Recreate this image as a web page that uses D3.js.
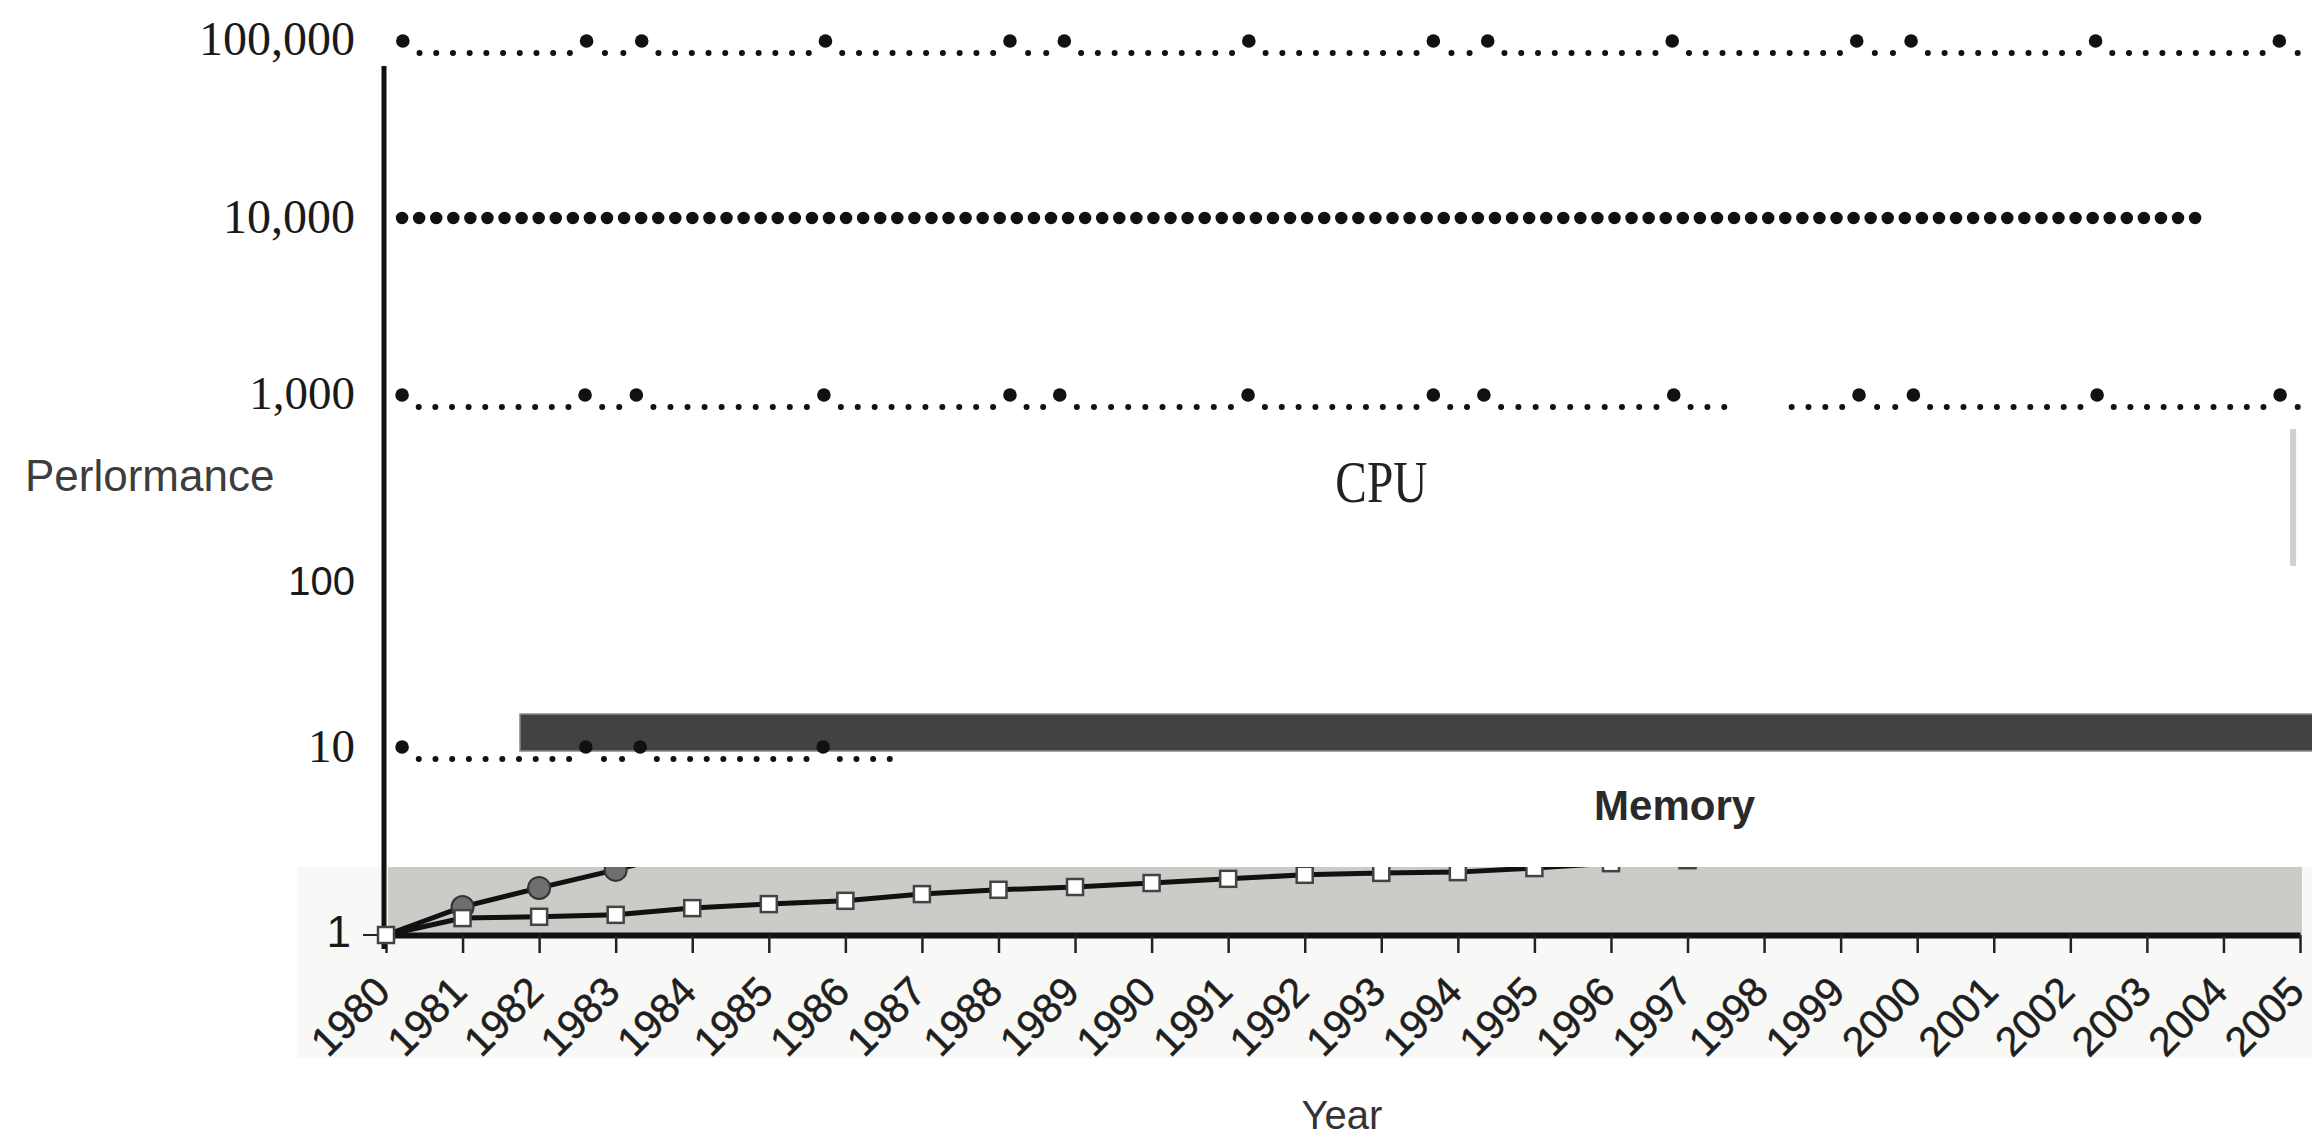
<!DOCTYPE html>
<html>
<head>
<meta charset="utf-8">
<script src="https://cdn.jsdelivr.net/npm/d3@7"></script>
<style>
  html, body { margin: 0; padding: 0; background: #fff; }
  svg { display: block; }
</style>
</head>
<body>
<svg id="chart" width="2312" height="1139"></svg>
<script>
// ---- data ----
const years = d3.range(1980, 2006);
const yTicks = [1, 10, 100, 1000, 10000, 100000];
const yTickLabels = ["1", "10", "100", "1,000", "10,000", "100,000"];

const memYears = d3.range(1980, 1998);
const memory = [1, 1.23, 1.25, 1.28, 1.39, 1.46, 1.52, 1.65, 1.74, 1.80, 1.89, 1.99, 2.09, 2.14, 2.16, 2.27, 2.41, 2.50];
const cpuYears = [1980, 1981, 1982, 1983, 1984];
const cpu = [1, 1.41, 1.78, 2.22, 2.83];

// big dots of the dotted rows, in years
const row100k = [1980.22, 1982.62, 1983.34, 1985.74, 1988.15, 1988.86, 1991.27, 1993.68, 1994.39, 1996.80, 1999.21, 1999.92, 2002.33, 2004.73];
const row1k = [1980.21, 1982.60, 1983.27, 1985.72, 1988.15, 1988.80, 1991.26, 1993.68, 1994.34, 1996.82, 1999.24, 1999.95, 2002.35, 2004.74];
const row10 = [1980.21, 1982.61, 1983.32, 1985.71];
const row10kSpan = [1980.21, 2003.63];
const row1kGap = [1997.53, 1998.33];

// dark band and light grey stroke: [from year, to year, low, high]
const darkBar = [1981.75, 2005.5, 9.52, 15.76];
const greyMark = [2004.91, 2004.91, 119, 655];

const svg = d3.select("#chart");

const x = d3.scaleLinear().domain([1980, 2005]).range([386, 2300]);
const y = d3.scaleLog().domain(yTicks).range([935, 747, 580, 395, 218, 41]);

const SERIF = "'Liberation Serif', 'Times New Roman', serif";
const SANS = "'Liberation Sans', Arial, Helvetica, sans-serif";

// light background behind the lower strip
svg.append("rect")
    .attr("x", 297).attr("y", 867)
    .attr("width", 2312 - 297).attr("height", 1058 - 867)
    .attr("fill", "#f8f9f6");

svg.append("rect")
    .attr("x", x(1980) + 2).attr("y", 867)
    .attr("width", x(2005) - x(1980)).attr("height", y(1) - 867)
    .attr("fill", "#c9ccc7");

// dark bar
svg.append("rect")
    .attr("x", x(darkBar[0])).attr("y", y(darkBar[3]))
    .attr("width", x(darkBar[1]) - x(darkBar[0]))
    .attr("height", y(darkBar[2]) - y(darkBar[3]))
    .attr("fill", "#434142")
    .attr("stroke", "#8a8a8a").attr("stroke-width", 1.5);

// light grey stroke on the right
svg.append("line")
    .attr("x1", x(greyMark[0])).attr("x2", x(greyMark[1]))
    .attr("y1", y(greyMark[3])).attr("y2", y(greyMark[2]))
    .attr("stroke", "#cfd1cd").attr("stroke-width", 6);

// ---- dotted rows ----
const dotRows = [
  { value: 100000, dots: row100k, end: 2004.97, gaps: [] },
  { value: 1000, dots: row1k, end: 2004.97, gaps: [row1kGap] },
  { value: 10, dots: row10, end: 1986.58, gaps: [] }
];

const gDots = svg.append("g");

function leader(a, b, yy, gaps, includeEnd) {
  const n = Math.round((b - a) / 16.7);
  if (n < 1) return;
  const s = (b - a) / n;
  let pieces = [[a + s, includeEnd ? b : b - s]];
  gaps.forEach(([g0, g1]) => {
    const p0x = x(g0), p1x = x(g1);
    pieces = pieces.flatMap(([p0, p1]) => {
      if (p1x <= p0 || p0x >= p1) return [[p0, p1]];
      return [[p0, a + s * Math.floor((p0x - a) / s)],
              [a + s * Math.ceil((p1x - a) / s), p1]].filter(([u, v]) => v >= u - 0.1);
    });
  });
  pieces.forEach(([p0, p1]) => {
    if (p1 < p0 - 0.1) return;
    gDots.append("line")
        .attr("x1", p0).attr("x2", p1 + 0.5)
        .attr("y1", yy).attr("y2", yy)
        .attr("stroke", "#111").attr("stroke-width", 6)
        .attr("stroke-linecap", "round")
        .attr("stroke-dasharray", `0 ${s}`);
  });
}

dotRows.forEach(row => {
  const yy = y(row.value);
  const px = row.dots.map(x);
  for (let i = 0; i < px.length - 1; i++) leader(px[i], px[i + 1], yy + 12, row.gaps, false);
  leader(px[px.length - 1], x(row.end), yy + 12, row.gaps, true);
  gDots.selectAll(null)
      .data(row.dots)
      .enter()
      .append("circle")
      .attr("cx", d => x(d))
      .attr("cy", yy)
      .attr("r", 6.8)
      .attr("fill", "#111");
});

// the solid row of big dots at 10,000
{
  const a = x(row10kSpan[0]), b = x(row10kSpan[1]);
  const n = Math.round((b - a) / 17.1);
  gDots.append("line")
      .attr("x1", a).attr("x2", b + 0.5)
      .attr("y1", y(10000)).attr("y2", y(10000))
      .attr("stroke", "#111").attr("stroke-width", 12.5)
      .attr("stroke-linecap", "round")
      .attr("stroke-dasharray", `0 ${(b - a) / n}`);
}

// ---- x axis ----
const xAxis = svg.append("g")
    .attr("transform", `translate(0,${y(1)})`)
    .call(d3.axisBottom(x).tickValues(years).tickSize(18).tickSizeOuter(0).tickFormat(d3.format("d")));

xAxis.select(".domain")
    .attr("stroke", "#111").attr("stroke-width", 6);
xAxis.selectAll(".tick line")
    .attr("stroke", "#222").attr("stroke-width", 2.5);
xAxis.selectAll(".tick text")
    .attr("x", null).attr("y", null).attr("dy", null)
    .attr("text-anchor", "end")
    .attr("transform", "translate(6,59) rotate(-45)")
    .attr("font-family", SANS)
    .attr("font-size", 41)
    .attr("fill", "#1e1e1e")
    .attr("stroke", "#1e1e1e").attr("stroke-width", 0.5);

// ---- y axis ----
svg.append("line")
    .attr("x1", x(1980) - 2).attr("x2", x(1980) - 2)
    .attr("y1", 66).attr("y2", y(1) + 14)
    .attr("stroke", "#111").attr("stroke-width", 5);

svg.append("line")
    .attr("x1", 363).attr("x2", x(1980))
    .attr("y1", y(1)).attr("y2", y(1))
    .attr("stroke", "#222").attr("stroke-width", 2);

const yLabelStyle = {
  1: { font: SANS, size: 44, dy: 12 },
  10: { font: SERIF, size: 47, dy: 15 },
  100: { font: SANS, size: 40, dy: 15 },
  1000: { font: SERIF, size: 47, dy: 14 },
  10000: { font: SERIF, size: 48, dy: 15 },
  100000: { font: SERIF, size: 48, dy: 14 }
};

svg.append("g")
  .selectAll("text")
  .data(yTicks)
  .enter()
  .append("text")
    .attr("x", d => d === 1 ? 351 : 355)
    .attr("y", d => y(d) + yLabelStyle[d].dy)
    .attr("text-anchor", "end")
    .attr("font-family", d => yLabelStyle[d].font)
    .attr("font-size", d => yLabelStyle[d].size)
    .attr("fill", "#1a1a1a")
    .text((d, i) => yTickLabels[i]);

// ---- series, clipped to the visible strip ----
svg.append("clipPath").attr("id", "strip")
  .append("rect")
    .attr("x", 360).attr("y", 867)
    .attr("width", 1942).attr("height", 95);

const plot = svg.append("g").attr("clip-path", "url(#strip)");

const line = d3.line()
    .x(d => x(d[0]))
    .y(d => y(d[1]));

const memPts = memYears.map((yr, i) => [yr, memory[i]]);
const cpuPts = cpuYears.map((yr, i) => [yr, cpu[i]]);

plot.append("path")
    .datum(cpuPts)
    .attr("d", line)
    .attr("fill", "none").attr("stroke", "#111").attr("stroke-width", 5);

plot.append("path")
    .datum(memPts)
    .attr("d", line)
    .attr("fill", "none").attr("stroke", "#111").attr("stroke-width", 5);

plot.selectAll(".cpu")
    .data(cpuPts.slice(1))
    .enter()
    .append("circle")
    .attr("class", "cpu")
    .attr("cx", d => x(d[0]))
    .attr("cy", d => y(d[1]))
    .attr("r", 11)
    .attr("fill", "#6f6f6f")
    .attr("stroke", "#333").attr("stroke-width", 2);

plot.selectAll(".mem")
    .data(memPts)
    .enter()
    .append("rect")
    .attr("class", "mem")
    .attr("x", d => x(d[0]) - 8)
    .attr("y", d => y(d[1]) - 8)
    .attr("width", 16).attr("height", 16)
    .attr("fill", "#fff")
    .attr("stroke", "#444").attr("stroke-width", 2.5);

// ---- labels ----
svg.append("text")
    .attr("x", x(1992.4)).attr("y", y(264))
    .attr("font-family", SERIF).attr("font-size", 60)
    .attr("textLength", 92).attr("lengthAdjust", "spacingAndGlyphs")
    .attr("fill", "#222")
    .text("CPU");

svg.append("text")
    .attr("x", x(1995.78)).attr("y", y(4.09))
    .attr("font-family", SANS).attr("font-weight", "bold").attr("font-size", 42)
    .attr("fill", "#2a2a2a")
    .text("Memory");

svg.append("text")
    .attr("x", 25).attr("y", 491)
    .attr("font-family", SANS).attr("font-size", 44)
    .attr("fill", "#3d3d3d")
    .text("Perlormance");

svg.append("text")
    .attr("x", 1342).attr("y", 1129)
    .attr("text-anchor", "middle")
    .attr("font-family", SANS).attr("font-size", 40)
    .attr("fill", "#333")
    .text("Year");
</script>
</body>
</html>
